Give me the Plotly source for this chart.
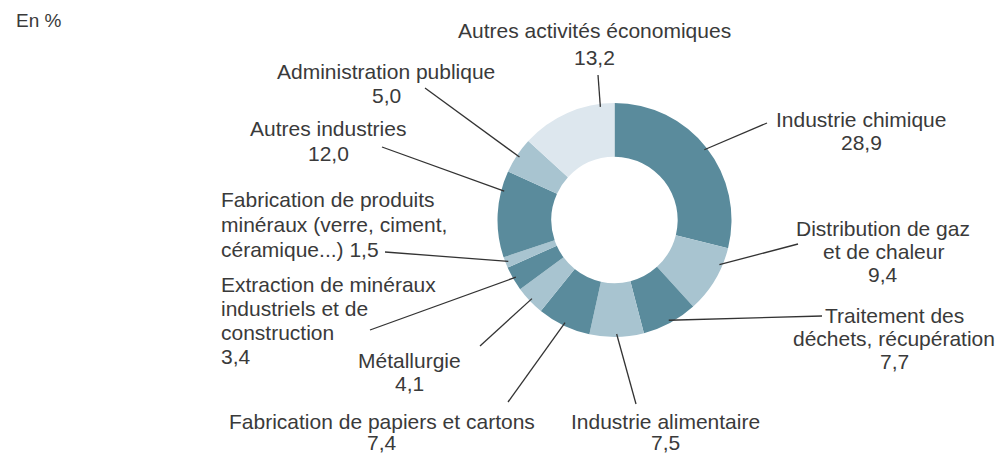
import math
import plotly.graph_objects as go

# ---------------- data ----------------
categories = [
    "Industrie chimique",
    "Distribution de gaz et de chaleur",
    "Traitement des déchets, récupération",
    "Industrie alimentaire",
    "Fabrication de papiers et cartons",
    "Métallurgie",
    "Extraction de minéraux industriels et de construction",
    "Fabrication de produits minéraux (verre, ciment, céramique...)",
    "Autres industries",
    "Administration publique",
    "Autres activités économiques",
]
values = [28.9, 9.4, 7.7, 7.5, 7.4, 4.1, 3.4, 1.5, 12.0, 5.0, 13.2]
label_lines = [
    ["Industrie chimique", "{v}"],
    ["Distribution de gaz", "et de chaleur", "{v}"],
    ["Traitement des", "déchets, récupération", "{v}"],
    ["Industrie alimentaire", "{v}"],
    ["Fabrication de papiers et cartons", "{v}"],
    ["Métallurgie", "{v}"],
    ["Extraction de minéraux", "industriels et de", "construction", "{v}"],
    ["Fabrication de produits", "minéraux (verre, ciment,", "céramique...) {v}"],
    ["Autres industries", "{v}"],
    ["Administration publique", "{v}"],
    ["Autres activités économiques", "{v}"],
]
unit_label = "En %"

# ---------------- styling / layout ----------------
W, H = 999, 453
CX, CY, R = 614.5, 220.0, 117.0
DARK, LIGHT, LIGHTEST = "#5a8b9c", "#a8c4d0", "#dde7ee"
colors = [DARK, LIGHT, DARK, LIGHT, DARK, LIGHT, DARK, LIGHT, DARK, LIGHT, LIGHTEST]
TEXT_COLOR = "#3a3a3a"
FONT = "Liberation Sans, Arial, sans-serif"
FS = 21

# per label: text x, first-line y, anchor, line spacing, leader end x, leader end y, position in slice
label_layout = [
    (861, 119, "center", 23.0, 767, 123, 0.50),
    (883, 228, "center", 23.0, 798, 244, 0.27),
    (894, 315, "center", 23.0, 822, 316, 0.50),
    (665, 421, "center", 21.0, 636, 404, 0.50),
    (382, 421, "center", 21.0, 508, 402, 0.50),
    (409, 360, "center", 23.0, 480, 346, 0.50),
    (219, 284, "left", 24.0, 370, 330, 0.50),
    (219, 199, "left", 25.0, 385, 252, 0.50),
    (328, 128, "center", 25.0, 382, 147, 0.77),
    (386, 71, "center", 24.5, 425, 88, 0.50),
    (594, 30, "center", 27.0, 598, 75, 0.85),
]

fig = go.Figure()
fig.add_trace(go.Pie(
    labels=categories,
    values=values,
    sort=False,
    direction="clockwise",
    rotation=0,
    hole=0.54,
    marker=dict(colors=colors, line=dict(width=0)),
    textinfo="none",
    hoverinfo="label+value",
    showlegend=False,
    domain=dict(x=[(CX - R) / W, (CX + R) / W],
                y=[(H - CY - R) / H, (H - CY + R) / H]),
))

total = sum(values)
cum = 0.0
shapes = []
annotations = []
for v, lines, (tx, ty, anchor, ls, ex, ey, frac) in zip(values, label_lines, label_layout):
    ang = 2 * math.pi * (cum + frac * v) / total
    cum += v
    r0 = R - 3
    sx = CX + r0 * math.sin(ang)
    sy = CY - r0 * math.cos(ang)
    shapes.append(dict(type="line", xref="x", yref="y", x0=sx, y0=sy, x1=ex, y1=ey,
                       line=dict(color="#333333", width=1.3)))
    vs = f"{v:.1f}".replace(".", ",")
    for i, ln in enumerate(lines):
        annotations.append(dict(
            x=tx, y=ty + i * ls, xref="x", yref="y",
            text=ln.replace("{v}", vs), showarrow=False,
            xanchor=anchor, yanchor="middle",
            font=dict(family=FONT, size=FS, color=TEXT_COLOR),
        ))

annotations.append(dict(x=14, y=20, xref="x", yref="y", text=unit_label, showarrow=False,
                        xanchor="left", yanchor="middle",
                        font=dict(family=FONT, size=19, color=TEXT_COLOR)))

fig.update_layout(
    width=W, height=H,
    margin=dict(l=0, r=0, t=0, b=0),
    paper_bgcolor="white", plot_bgcolor="rgba(0,0,0,0)",
    xaxis=dict(range=[0, W], visible=False, domain=[0, 1], fixedrange=True),
    yaxis=dict(range=[H, 0], visible=False, domain=[0, 1], fixedrange=True),
    shapes=shapes,
    annotations=annotations,
)

fig.write_html(
    "out.html",
    config={"displayModeBar": False},
    post_script="document.body.style.margin='0';document.body.style.overflow='hidden';",
)
